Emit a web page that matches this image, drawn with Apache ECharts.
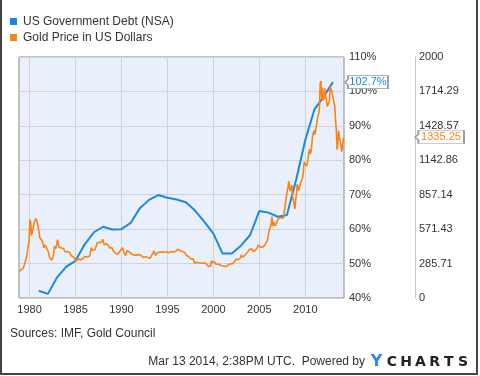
<!DOCTYPE html>
<html>
<head>
<meta charset="utf-8">
<script src="https://cdn.jsdelivr.net/npm/echarts@6.0.0/dist/echarts.min.js"></script>
<style>
html, body { margin: 0; padding: 0; background: #fff; }
#chart { width: 480px; height: 376px; }
</style>
</head>
<body>
<div id="chart"></div>
<script>
const debtName = 'US Government Debt (NSA)'
const goldName = 'Gold Price in US Dollars'

// annual debt, % of GDP
const debtYears = [1981, 1982, 1983, 1984, 1985, 1986, 1987, 1988, 1989, 1990,
    1991, 1992, 1993, 1994, 1995, 1996, 1997, 1998, 1999, 2000,
    2001, 2002, 2003, 2004, 2005, 2006, 2007, 2008, 2009, 2010,
    2011, 2012, 2013]
const debtValues = [42.1, 41.2, 46.0, 49.1, 50.8, 55.6, 59.1, 60.7, 59.9, 60.0,
    61.8, 66.1, 68.5, 69.9, 69.1, 68.6, 67.8, 65.4, 62.2, 58.7,
    52.9, 52.9, 55.2, 58.3, 65.3, 64.8, 63.6, 64.1, 74.3, 85.9,
    94.8, 98.5, 102.7]

// gold, one value per month, first one mid Nov 1978
const goldStart = 1978.87
const goldMonthly = [
    215, 224,
    235, 248, 244, 242, 258, 280, 300, 315, 352, 395, 400, 480,
    650, 630, 520, 505, 520, 600, 640, 625, 660, 640, 610, 580,
    540, 500, 490, 485, 475, 455, 415, 410, 440, 430, 410, 405,
    385, 370, 330, 345, 330, 315, 340, 370, 430, 420, 410, 445,
    485, 495, 420, 430, 435, 415, 420, 415, 410, 395, 382, 388,
    370, 386, 394, 381, 377, 378, 350, 348, 341, 340, 341, 320,
    303, 299, 304, 325, 316, 317, 317, 330, 323, 326, 325, 322,
    345, 339, 346, 340, 342, 343, 348, 376, 418, 423, 396, 391,
    408, 401, 408, 439, 461, 450, 451, 461, 460, 465, 469, 487,
    477, 442, 443, 452, 451, 451, 437, 432, 413, 406, 420, 419,
    404, 388, 390, 384, 371, 367, 375, 365, 362, 367, 394, 409,
    410, 417, 393, 374, 369, 352, 362, 395, 389, 380, 381, 378,
    383, 364, 363, 358, 357, 366, 368, 356, 349, 359, 360, 361,
    354, 354, 345, 338, 337, 341, 352, 343, 345, 344, 335, 334,
    329, 330, 330, 342, 367, 372, 392, 379, 355, 364, 373, 383,
    387, 382, 384, 377, 381, 385, 385, 380, 392, 390, 384, 379,
    379, 376, 382, 391, 385, 387, 386, 383, 383, 383, 386, 387,
    400, 405, 396, 393, 392, 385, 383, 387, 383, 381, 378, 369,
    355, 347, 352, 344, 344, 341, 324, 324, 323, 325, 306, 289,
    289, 297, 296, 308, 299, 292, 293, 284, 289, 296, 294, 291,
    287, 287, 286, 282, 277, 262, 256, 257, 265, 311, 293, 283,
    284, 300, 286, 280, 275, 286, 282, 275, 273, 270, 266, 272,
    266, 262, 263, 261, 272, 270, 268, 273, 283, 283, 276, 276,
    282, 296, 294, 302, 314, 321, 314, 310, 319, 317, 319, 333,
    357, 359, 340, 328, 355, 356, 351, 360, 379, 379, 389, 407,
    414, 405, 406, 404, 384, 392, 398, 401, 405, 420, 439, 442,
    424, 423, 434, 429, 422, 430, 424, 438, 456, 469, 476, 509,
    549, 555, 557, 610, 676, 596, 633, 632, 598, 585, 627, 629,
    631, 665, 654, 679, 666, 655, 665, 665, 712, 754, 806, 803,
    889, 922, 968, 909, 888, 889, 939, 839, 829, 780, 740, 816,
    858, 943, 924, 890, 928, 946, 934, 949, 996, 1043, 1127, 1134,
    1118, 1095, 1113, 1148, 1205, 1233, 1193, 1215, 1271, 1342, 1370, 1391,
    1356, 1372, 1424, 1473, 1510, 1529, 1573, 1780, 1800, 1650, 1745, 1640,
    1660, 1740, 1670, 1650, 1590, 1600, 1590, 1630, 1760, 1770, 1720, 1690,
    1675, 1620, 1595, 1480, 1400, 1230, 1290, 1390, 1330, 1310, 1270, 1215,
    1250, 1310, 1335.25
]

const xTicks = [1980, 1985, 1990, 1995, 2000, 2005, 2010]
const xMin = 1978.85
const xMax = 2014.21

const blue = '#1b88e4'
const orange = '#fb8313'
const font = '"Liberation Sans", Arial, sans-serif'
const tagPath = 'path://M0,6.5L3,3.5L3,0L43,0L43,13L3,13L3,9.5Z'

const debtData = debtYears.map((y, i) => [y, debtValues[i]])
const goldData = goldMonthly.map((v, i) => [goldStart + i / 12, v])
const lastDebt = debtValues[debtValues.length - 1]
const lastGold = goldMonthly[goldMonthly.length - 1]

const chart = echarts.init(document.getElementById('chart'))

const option = {
    animation: false,
    textStyle: { fontFamily: font },
    legend: {
        orient: 'vertical',
        left: 10,
        top: 15,
        padding: 0,
        icon: 'rect',
        itemWidth: 7,
        itemHeight: 7,
        itemGap: 3,
        textStyle: { fontSize: 12, color: '#333', lineHeight: 13, padding: [0, 0, 0, 1] },
        data: [debtName, goldName]
    },
    grid: {
        left: 19, right: 136, top: 57, bottom: 78,
        show: true,
        backgroundColor: '#eaf0fb',
        borderColor: '#8a8a8a',
        borderWidth: 1
    },
    xAxis: {
        type: 'value',
        min: xMin,
        max: xMax,
        axisLine: { show: false },
        axisTick: { show: false, customValues: xTicks },
        axisLabel: {
            customValues: xTicks,
            color: '#333',
            fontSize: 11,
            margin: 6,
            formatter: v => String(v)
        },
        splitLine: { show: true, lineStyle: { color: '#d3d3d3' } }
    },
    yAxis: [
        {
            type: 'value',
            position: 'right',
            min: 40,
            max: 110,
            interval: 10,
            axisLine: { show: false },
            axisTick: { show: false },
            axisLabel: { formatter: '{value}%', color: '#333', fontSize: 11, margin: 5 },
            splitLine: { show: true, lineStyle: { color: '#d3d3d3' } }
        },
        {
            type: 'value',
            position: 'right',
            offset: 71,
            min: 0,
            max: 2000,
            interval: 2000 / 7,
            axisLine: { show: true, lineStyle: { color: '#c8c8c8' } },
            axisTick: { show: false },
            axisLabel: {
                formatter: v => String(Math.round(v * 100) / 100),
                color: '#333', fontSize: 11, margin: 4
            },
            splitLine: { show: false }
        }
    ],
    series: [
        {
            name: debtName,
            type: 'line',
            data: debtData,
            showSymbol: false,
            itemStyle: { color: blue },
            lineStyle: { color: blue, width: 2 },
            markPoint: {
                silent: true,
                symbol: tagPath,
                symbolSize: [43, 13],
                symbolOffset: [22.5, 0],
                itemStyle: { color: '#fff', borderColor: '#999', borderWidth: 1 },
                label: {
                    show: true, position: 'inside', offset: [1.5, 0],
                    color: blue, fontSize: 11, formatter: p => p.value + '%'
                },
                data: [{ coord: [xMax, lastDebt], value: lastDebt }]
            }
        },
        {
            name: goldName,
            type: 'line',
            yAxisIndex: 1,
            data: goldData,
            showSymbol: false,
            itemStyle: { color: orange },
            lineStyle: { color: orange, width: 1.6 },
            markPoint: {
                silent: true,
                symbol: tagPath,
                symbolSize: [49, 13],
                symbolOffset: [71 + 24.5, 0],
                itemStyle: { color: '#fff', borderColor: '#999', borderWidth: 1 },
                label: {
                    show: true, position: 'inside', offset: [1.5, 0],
                    color: orange, fontSize: 11, formatter: p => String(p.value)
                },
                data: [{ coord: [xMax, lastGold], value: lastGold }]
            }
        }
    ],
    graphic: [
        {
            type: 'polyline',
            shape: { points: [[1, 0], [1, 374], [477, 374], [477, 0]] },
            style: { stroke: '#444', lineWidth: 2, fill: null }
        },
        {
            type: 'text', x: 10, y: 334,
            style: { text: 'Sources: IMF, Gold Council', font: '12px ' + font, fill: '#333', verticalAlign: 'middle' }
        },
        {
            type: 'text', x: 365, y: 362,
            style: { text: 'Mar 13 2014, 2:38PM UTC.  Powered by', font: '12px ' + font, fill: '#333', align: 'right', verticalAlign: 'middle' }
        },
        {
            type: 'text', x: 376.5, y: 362,
            style: { text: 'Y', font: 'bold 16px "DejaVu Sans"', fill: '#3486e6', align: 'center', verticalAlign: 'middle' }
        },
        ...['C', 'H', 'A', 'R', 'T', 'S'].map((ch, i) => ({
            type: 'text', x: 392 + i * 14.2, y: 362,
            style: { text: ch, font: 'bold 14px "DejaVu Sans"', fill: '#222', align: 'center', verticalAlign: 'middle' }
        }))
    ]
}

chart.setOption(option)
</script>
</body>
</html>
